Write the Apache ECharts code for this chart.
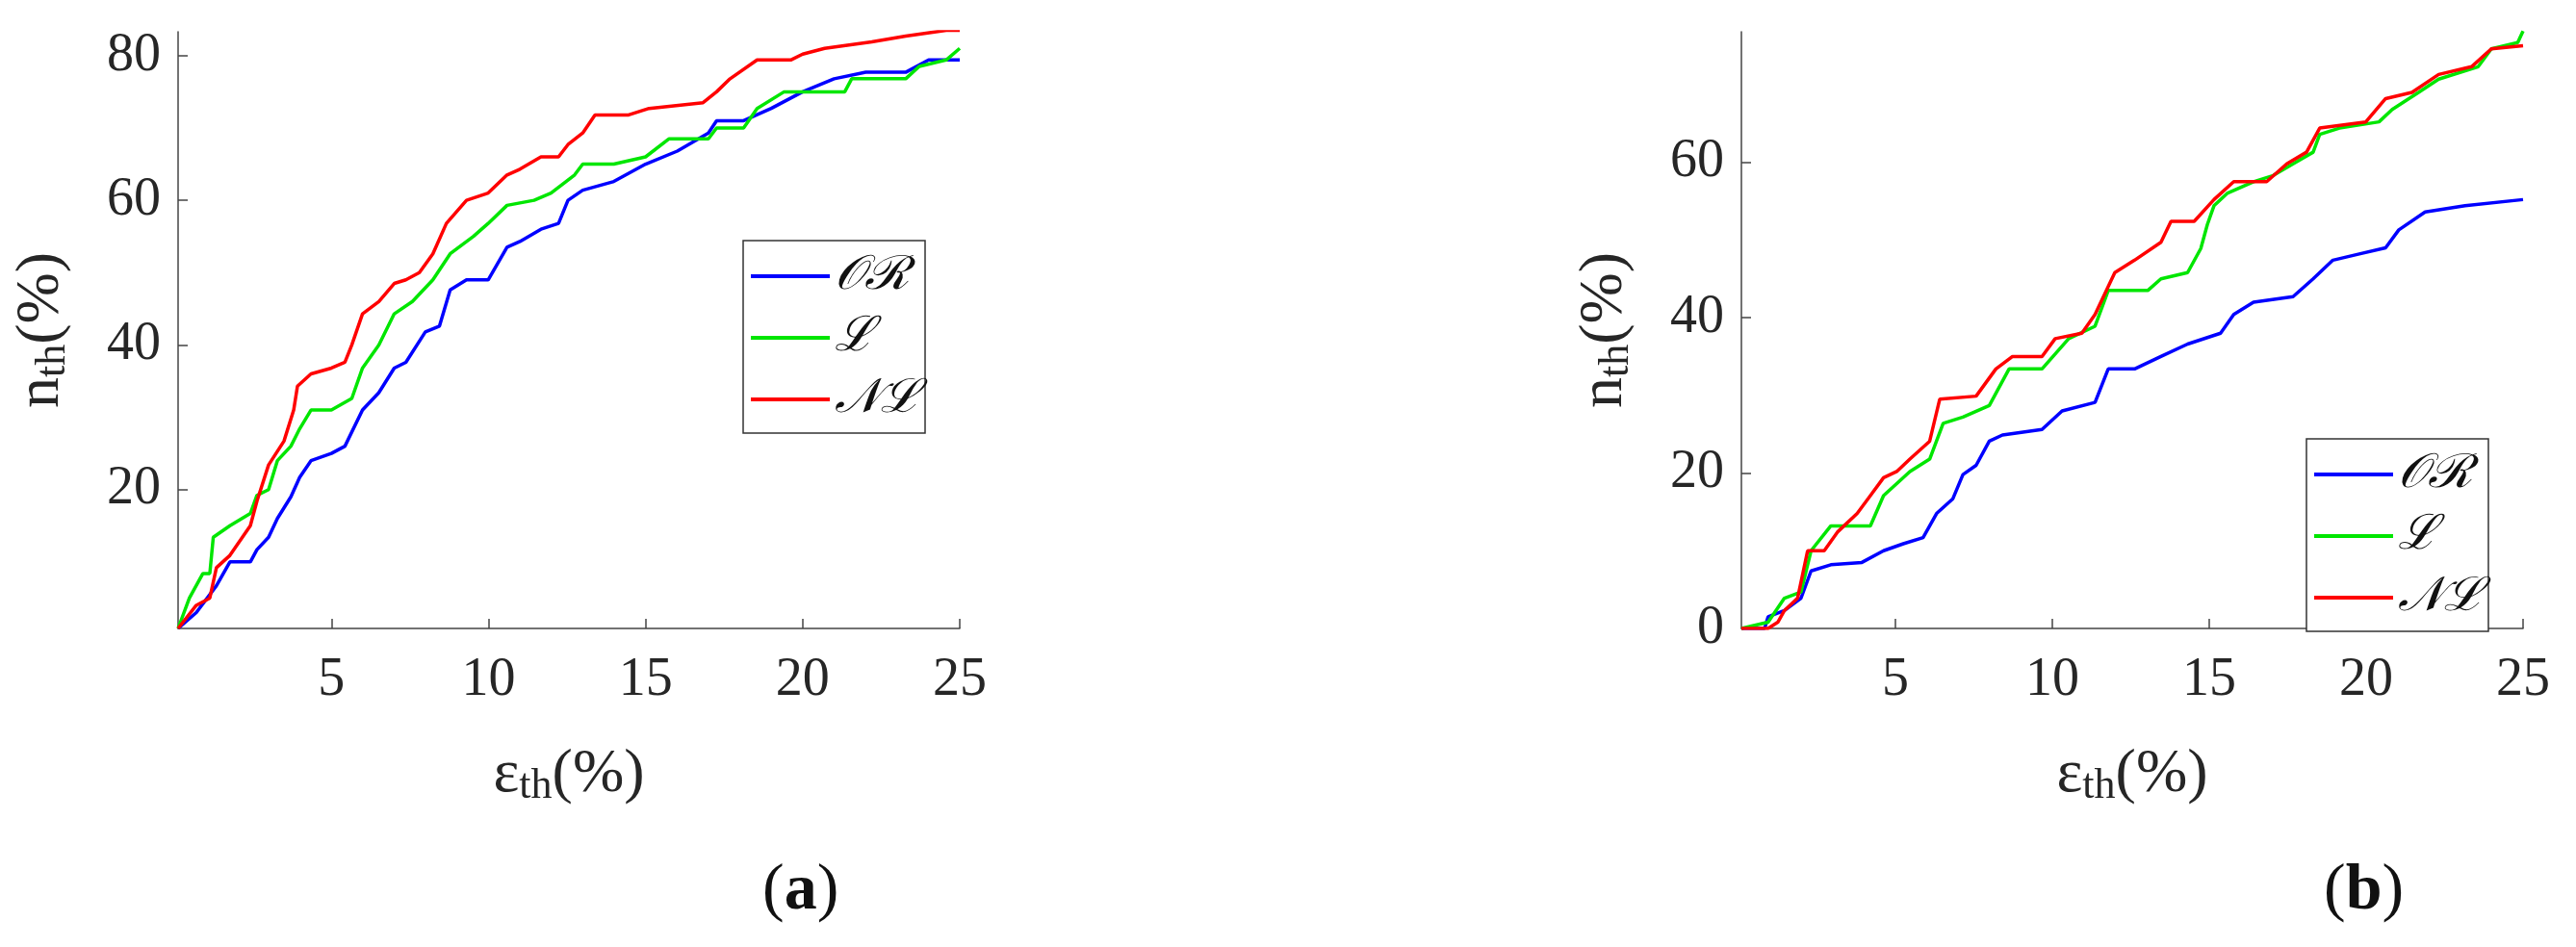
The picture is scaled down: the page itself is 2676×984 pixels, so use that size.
<!DOCTYPE html>
<html>
<head>
<meta charset="UTF-8">
<script src="https://cdn.jsdelivr.net/npm/echarts@6/dist/echarts.min.js"></script>
<style>
html,body{margin:0;padding:0;background:#fff;}
#main{width:2676px;height:984px;}
</style>
</head>
<body>
<div id="main"></div>
<script>
// series names (legend)
var names = ['\uD835\uDCAA\u211B', '\u2112', '\uD835\uDCA9\u2112'];
var colors = ['#0000ff', '#00e600', '#ff0000'];
var xTicks = [5, 10, 15, 20, 25];
var yTicksA = [20, 40, 60, 80];

// panel (a): [eps_th, n_th]
var aOR = [[0.12,0.8],[0.7,3],[1.34,6.7],[1.77,10],[2.42,10],[2.63,11.7],[3.0,13.4],[3.28,16],[3.71,19],[3.99,21.7],[4.35,24],[5.0,25],[5.43,26],[5.99,31],[6.51,33.4],[7.0,36.8],[7.37,37.6],[7.99,41.8],[8.44,42.6],[8.78,47.6],[9.3,49],[9.99,49],[10.59,53.5],[11.0,54.3],[11.67,56],[12.23,56.8],[12.53,60],[13.0,61.4],[13.99,62.6],[15.0,65],[16.01,66.8],[17.0,69.3],[17.26,71],[18.12,71],[19.0,72.7],[20.0,75],[21.0,76.8],[22.01,77.7],[23.28,77.7],[24.01,79.4],[25,79.4]];
var aL = [[0.12,0.8],[0.48,5],[0.91,8.4],[1.13,8.4],[1.24,13.4],[1.77,15],[2.42,16.7],[2.63,19.2],[3.0,20],[3.28,24],[3.71,26],[3.99,28.4],[4.35,31],[5.0,31],[5.65,32.6],[5.99,36.8],[6.51,40],[7.0,44.3],[7.58,46],[8.23,49],[8.78,52.6],[9.52,55],[9.99,56.8],[10.59,59.3],[11.45,60],[11.99,61],[12.74,63.5],[13.0,65],[13.99,65],[15.0,66],[15.75,68.5],[17.0,68.5],[17.26,70],[18.12,70],[18.55,72.7],[19.41,75],[21.34,75],[21.56,76.8],[23.28,76.8],[23.71,78.5],[24.57,79.4],[25,81]];
var aNL = [[0.12,0.8],[0.7,4],[1.13,5],[1.34,9.2],[1.77,10.9],[2.42,15],[2.63,18.4],[3.0,23.4],[3.49,26.7],[3.8,31],[3.92,34.3],[4.35,36],[5.0,36.8],[5.43,37.6],[5.65,40],[5.99,44.3],[6.51,46],[7.0,48.5],[7.37,49],[7.8,50],[8.23,52.6],[8.66,56.8],[9.3,60],[9.99,61],[10.59,63.5],[11.0,64.3],[11.67,66],[12.23,66],[12.53,67.7],[13.0,69.3],[13.39,71.8],[14.46,71.8],[15.11,72.7],[16.83,73.5],[17.26,75],[17.69,76.8],[18.55,79.4],[19.62,79.4],[20.0,80.2],[20.7,81],[22.2,81.9],[23.28,82.7],[24.57,83.5],[25,83.5]];

// panel (b)
var bOR = [[0.09,0],[0.83,0],[0.94,1.5],[1.46,2.3],[1.99,3.9],[2.31,7.4],[2.94,8.2],[3.93,8.5],[4.62,10],[5.25,10.9],[5.88,11.7],[6.31,14.8],[6.83,16.7],[7.15,19.8],[7.57,21],[7.99,24.1],[8.41,24.9],[9.67,25.6],[10.31,28],[11.36,29.1],[11.78,33.4],[12.62,33.4],[13.46,35],[14.31,36.6],[15.36,38],[15.78,40.4],[16.41,42],[17.67,42.7],[18.31,45],[18.94,47.4],[19.78,48.2],[20.62,49],[21.04,51.3],[21.88,53.6],[23.15,54.4],[25,55.2]];
var bL = [[0.09,0],[0.94,0.8],[1.46,3.9],[1.99,4.7],[2.31,10],[2.94,13.2],[4.2,13.2],[4.62,17.1],[5.46,20.2],[6.09,21.8],[6.52,26.4],[7.15,27.2],[7.99,28.7],[8.62,33.4],[9.67,33.4],[10.52,37.3],[11.36,38.9],[11.78,43.5],[13.04,43.5],[13.46,45],[14.31,45.8],[14.73,48.9],[14.94,52],[15.15,54.4],[15.57,56],[16.41,57.5],[17.04,58.3],[17.67,59.8],[18.31,61.3],[18.52,63.6],[19.15,64.4],[20.41,65.2],[20.83,66.8],[21.67,69],[22.31,70.7],[23.57,72.3],[23.99,74.6],[24.83,75.4],[25,76.9]];
var bNL = [[0.09,0],[0.94,0],[1.25,0.8],[1.46,2.3],[1.88,3.9],[2.2,10],[2.73,10],[3.15,12.4],[3.78,14.8],[4.2,17.1],[4.62,19.4],[5.04,20.2],[5.46,21.8],[6.09,24.1],[6.41,29.5],[7.57,29.9],[8.2,33.4],[8.73,35],[9.67,35],[10.09,37.3],[10.94,38],[11.36,40.4],[11.99,45.8],[12.62,47.4],[13.46,49.7],[13.78,52.4],[14.52,52.4],[15.15,55.2],[15.78,57.5],[16.83,57.5],[17.47,59.8],[18.1,61.3],[18.52,64.4],[19.99,65.2],[20.62,68.2],[21.46,69],[22.31,71.3],[23.36,72.3],[23.99,74.6],[25,75]];

var FONT = 'Liberation Serif';
var TXT = '#262626';

function rich() {
  return {
    e: { fontFamily: FONT, fontSize: 64, color: TXT },
    s: { fontFamily: FONT, fontSize: 44, color: TXT, verticalAlign: 'bottom', padding: [24, 0, 0, 0] }
  };
}
function xAxisFor(i, min) {
  return {
    gridIndex: i, type: 'value', min: min, max: 25,
    name: '{e|\u03B5}{s|th}{e|(%)}', nameLocation: 'middle', nameGap: 118,
    nameTextStyle: { fontFamily: FONT, fontSize: 64, color: TXT, rich: rich() },
    axisLine: { lineStyle: { color: '#444', width: 1.5 } },
    axisTick: { inside: true, length: 10, customValues: xTicks, lineStyle: { color: '#444', width: 1.5 } },
    axisLabel: { customValues: xTicks, fontFamily: FONT, fontSize: 56, color: TXT, margin: 26 },
    splitLine: { show: false }
  };
}
function yAxisFor(i, min, max, ticks) {
  return {
    gridIndex: i, type: 'value', min: min, max: max,
    name: '{e|n}{s|th}{e|(%)}', nameLocation: 'middle', nameGap: 108,
    nameTextStyle: { fontFamily: FONT, fontSize: 64, color: TXT, rich: rich() },
    axisLine: { show: true, lineStyle: { color: '#444', width: 1.5 } },
    axisTick: { show: true, inside: true, length: 10, customValues: ticks, lineStyle: { color: '#444', width: 1.5 } },
    axisLabel: { customValues: ticks, fontFamily: FONT, fontSize: 56, color: TXT, margin: 18 },
    splitLine: { show: false }
  };
}
function line(name, data, color, i) {
  return { name: name, type: 'line', xAxisIndex: i, yAxisIndex: i, data: data,
    showSymbol: false, lineStyle: { color: color, width: 3.5 }, itemStyle: { color: color }, animation: false };
}
function legendAt(i, left, top) {
  return {
    id: 'lg' + i, data: names, orient: 'vertical', left: left, top: top,
    icon: 'rect', itemWidth: 82, itemHeight: 4, itemGap: 14,
    borderColor: '#333', borderWidth: 1.5, padding: [12, 10, 10, 8], backgroundColor: '#fff',
    textStyle: { fontFamily: 'DejaVu Serif', fontStyle: 'italic', fontSize: 50, color: '#111' },
    selectedMode: false
  };
}

var myChart = echarts.init(document.getElementById('main'));
myChart.setOption({
  animation: false,
  grid: [
    { left: 185, top: 33, width: 812, height: 620 },
    { left: 1809, top: 33, width: 812, height: 620 }
  ],
  xAxis: [xAxisFor(0, 0.12), xAxisFor(1, 0.09)],
  yAxis: [yAxisFor(0, 0.8, 83.3, yTicksA), yAxisFor(1, 0, 76.8, [0, 20, 40, 60])],
  legend: [legendAt(0, 772, 250), legendAt(1, 2396, 456)],
  series: [
    line(names[0], aOR, colors[0], 0), line(names[1], aL, colors[1], 0), line(names[2], aNL, colors[2], 0),
    line(names[0], bOR, colors[0], 1), line(names[1], bL, colors[1], 1), line(names[2], bNL, colors[2], 1)
  ],
  graphic: [
    { type: 'text', left: 792, top: 892, style: { text: '({b|a})', rich: { b: { fontWeight: 'bold', fontFamily: FONT, fontSize: 68, fill: '#111' } }, font: '68px "Liberation Serif"', fill: '#111' } },
    { type: 'text', left: 2414, top: 892, style: { text: '({b|b})', rich: { b: { fontWeight: 'bold', fontFamily: FONT, fontSize: 68, fill: '#111' } }, font: '68px "Liberation Serif"', fill: '#111' } }
  ]
});
</script>
</body>
</html>
